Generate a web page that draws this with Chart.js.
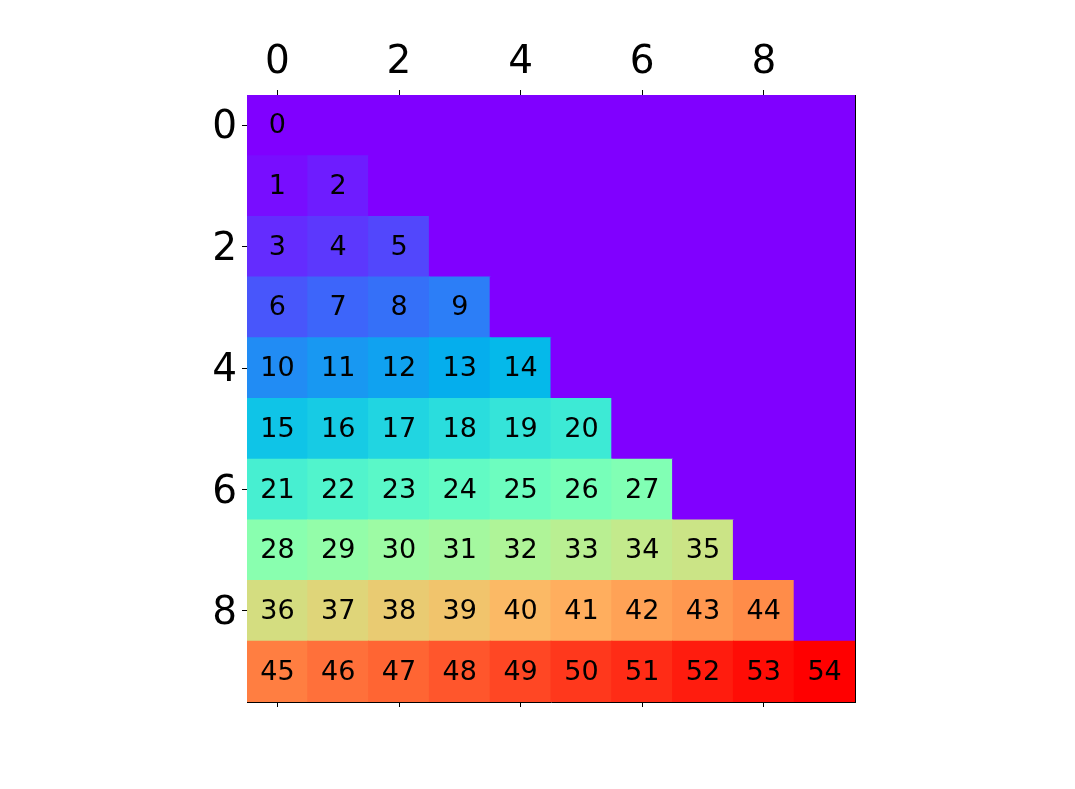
<!DOCTYPE html>
<html>
<head>
<meta charset="utf-8">
<script src="https://cdn.jsdelivr.net/npm/chart.js@4"></script>
<style>
html,body{margin:0;padding:0;background:#fff;}
#wrap{width:1075px;height:789px;}
</style>
</head>
<body>
<div id="wrap"><canvas id="c" width="1075" height="789"></canvas></div>
<script>
// Lower-triangular matrix values, row by row (row i has i+1 entries)
const row0 = [0];
const row1 = [1, 2];
const row2 = [3, 4, 5];
const row3 = [6, 7, 8, 9];
const row4 = [10, 11, 12, 13, 14];
const row5 = [15, 16, 17, 18, 19, 20];
const row6 = [21, 22, 23, 24, 25, 26, 27];
const row7 = [28, 29, 30, 31, 32, 33, 34, 35];
const row8 = [36, 37, 38, 39, 40, 41, 42, 43, 44];
const row9 = [45, 46, 47, 48, 49, 50, 51, 52, 53, 54];
const rows = [row0, row1, row2, row3, row4, row5, row6, row7, row8, row9];
const emptyValue = 0;      // value of the upper (unlabelled) cells
const nCols = 10;
const vMin = 0, vMax = 54;
const xTickValues = [0, 2, 4, 6, 8];
const yTickValues = [0, 2, 4, 6, 8];

// matplotlib 'rainbow' colormap (256-entry LUT)
function rainbow(v) {
  let t = (v - vMin) / (vMax - vMin);
  t = Math.max(0, Math.min(1, t));
  const i = Math.min(255, Math.floor(t * 256));
  const x = i / 255;
  const clip = z => Math.max(0, Math.min(1, z));
  const r = clip(Math.abs(2 * x - 0.5));
  const g = clip(Math.sin(Math.PI * x));
  const b = clip(Math.cos(Math.PI * x / 2));
  return `rgb(${Math.round(r * 255)},${Math.round(g * 255)},${Math.round(b * 255)})`;
}

const cells = [];
rows.forEach((vals, r) => {
  for (let c = 0; c < nCols; c++) {
    const labelled = c < vals.length;
    cells.push({ x: c, y: [r - 0.5, r + 0.5], v: labelled ? vals[c] : emptyValue, lab: labelled });
  }
});

const FONT = "'DejaVu Sans', sans-serif";

const cellText = {
  id: 'cellText',
  afterDatasetsDraw(chart) {
    const { ctx, scales } = chart;
    ctx.save();
    ctx.font = `27px ${FONT}`;
    ctx.fillStyle = '#000';
    ctx.textAlign = 'center';
    ctx.textBaseline = 'middle';
    rows.forEach((vals, r) => {
      vals.forEach((v, c) => {
        ctx.fillText(String(v), scales.x.getPixelForValue(c), scales.y.getPixelForValue(r) + 1);
      });
    });
    ctx.restore();
  }
};

const setTicks = vals => scale => { scale.ticks = vals.map(v => ({ value: v })); };

new Chart(document.getElementById('c'), {
  type: 'bar',
  data: {
    datasets: [{
      data: cells,
      backgroundColor: ctx => rainbow(ctx.raw ? ctx.raw.v : 0),
      borderWidth: 0,
      inflateAmount: 0.5,
      barPercentage: 1,
      categoryPercentage: 1,
      borderSkipped: false
    }]
  },
  options: {
    responsive: false,
    animation: false,
    devicePixelRatio: 1,
    layout: { padding: 0 },
    plugins: { legend: { display: false }, tooltip: { enabled: false } },
    scales: {
      x: {
        type: 'linear', position: 'top', min: -0.5, max: 9.5, offset: false,
        afterBuildTicks: setTicks(xTickValues),
        afterFit: s => { s.height = 95; },
        grid: { offset: false, drawOnChartArea: false, drawTicks: true, tickLength: 5, tickColor: '#000', tickWidth: 1 },
        border: { display: true, color: '#000', width: 1 },
        ticks: { font: { family: FONT, size: 39 }, color: '#000', padding: 4, maxRotation: 0, autoSkip: false }
      },
      x2: {
        type: 'linear', position: 'bottom', min: -0.5, max: 9.5, offset: false,
        afterBuildTicks: setTicks(xTickValues),
        afterFit: s => { s.height = 87; },
        grid: { offset: false, drawOnChartArea: false, drawTicks: true, tickLength: 5, tickColor: '#000', tickWidth: 1 },
        border: { display: true, color: '#000', width: 1 },
        ticks: { display: false }
      },
      y: {
        type: 'linear', position: 'left', min: -0.5, max: 9.5, reverse: true,
        afterBuildTicks: setTicks(yTickValues),
        afterFit: s => { s.width = 247; },
        grid: { offset: false, drawOnChartArea: false, drawTicks: true, tickLength: 5, tickColor: '#000', tickWidth: 1 },
        border: { display: true, color: '#000', width: 1 },
        ticks: { font: { family: FONT, size: 39 }, color: '#000', padding: 5, labelOffset: 3, autoSkip: false }
      },
      y2: {
        type: 'linear', position: 'right', min: 0, max: 1,
        afterFit: s => { s.width = 220; },
        grid: { display: false, drawOnChartArea: false, drawTicks: false },
        border: { display: true, color: '#000', width: 1 },
        ticks: { display: false }
      }
    }
  },
  plugins: [cellText]
});
</script>
</body>
</html>
